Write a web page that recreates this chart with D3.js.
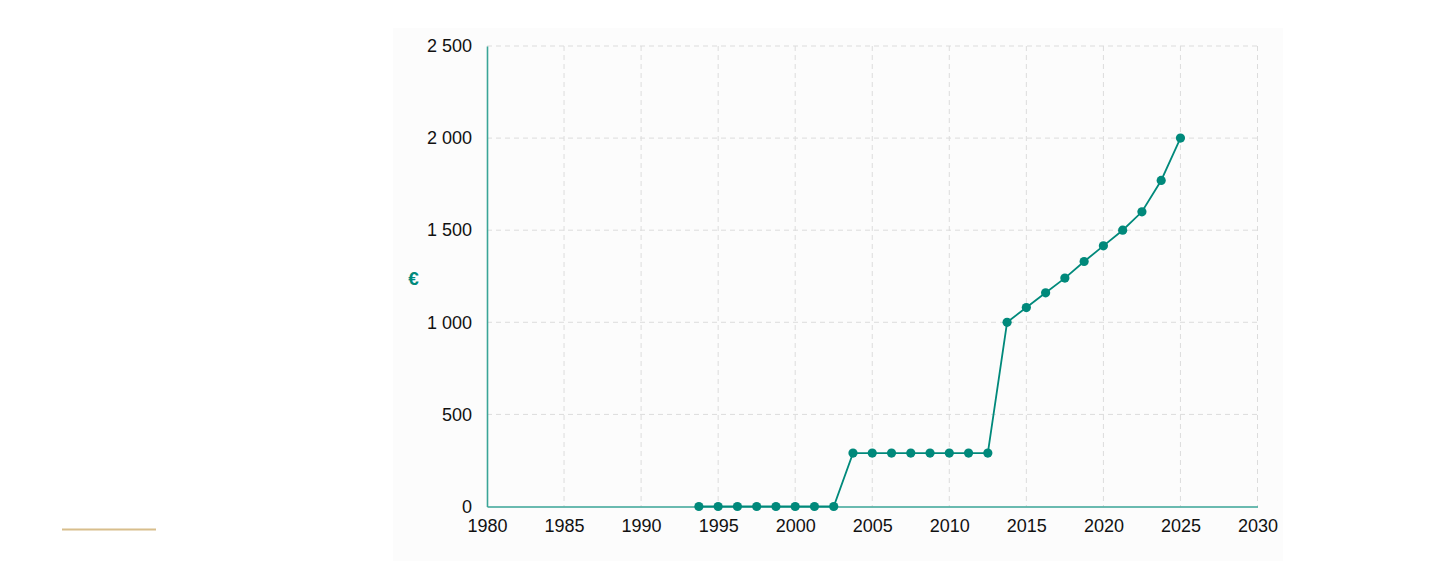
<!DOCTYPE html>
<html><head><meta charset="utf-8">
<script src="https://cdn.jsdelivr.net/npm/d3@7"></script>
<style>
html,body{margin:0;padding:0;background:#fff;}
svg{display:block;font-family:"Liberation Sans",Arial,sans-serif;}
</style></head>
<body><svg id="c" width="1433" height="567"></svg>
<script>
const years = [1993.75,1995,1996.25,1997.5,1998.75,2000,2001.25,2002.5,2003.75,2005,2006.25,2007.5,2008.75,2010,2011.25,2012.5,2013.75,2015,2016.25,2017.5,2018.75,2020,2021.25,2022.5,2023.75,2025];
const values = [0,0,0,0,0,0,0,0,290,290,290,290,290,290,290,290,1000,1080,1160,1240,1330,1415,1500,1600,1770,2000];
const xTicks = [1980,1985,1990,1995,2000,2005,2010,2015,2020,2025,2030];
const yTicks = [0,500,1000,1500,2000,2500];
const yUnit = "€";

const svg = d3.select("#c");
const x = d3.scaleLinear().domain([1980,2030]).range([487,1257.5]);
const y = d3.scaleLinear().domain([0,2500]).range([506.5,46]);
const teal = "#00897b";
const font = "'Liberation Sans',Arial,sans-serif";

svg.append("rect").attr("x",393).attr("y",28).attr("width",890).attr("height",533).attr("fill","#fcfcfc");

// gold line
svg.append("line").attr("x1",62).attr("x2",156).attr("y1",529.5).attr("y2",529.5)
  .attr("stroke","#d8be8c").attr("stroke-width",2);

// grid
const g = svg.append("g");
g.selectAll(".vg").data(xTicks.slice(1)).join("line")
  .attr("x1",d=>x(d)).attr("x2",d=>x(d)).attr("y1",y(2500)).attr("y2",y(0))
  .attr("stroke","#dcdcdc").attr("stroke-dasharray","5,4").attr("stroke-width",1);
g.selectAll(".hg").data(yTicks.slice(1)).join("line")
  .attr("x1",x(1980)).attr("x2",x(2030)).attr("y1",d=>y(d)).attr("y2",d=>y(d))
  .attr("stroke","#dcdcdc").attr("stroke-dasharray","5,4").attr("stroke-width",1);

const fmt = d => d3.format(",")(d).replace(/,/g," ");

// axes
const xa = svg.append("g").attr("transform",`translate(0,${y(0)})`)
  .call(d3.axisBottom(x).tickValues(xTicks).tickFormat(d3.format("d")).tickSize(0).tickPadding(13));
xa.select(".domain").attr("stroke","#3aa597").attr("stroke-width",1.6);
xa.selectAll("text").attr("font-size",18).attr("fill","#111").attr("font-family",font);

const ya = svg.append("g").attr("transform",`translate(${x(1980)},0)`)
  .call(d3.axisLeft(y).tickValues(yTicks).tickFormat(fmt).tickSize(0).tickPadding(15));
ya.select(".domain").attr("stroke","#3aa597").attr("stroke-width",1.6);
ya.selectAll("text").attr("font-size",18).attr("fill","#111").attr("font-family",font);

svg.append("text").attr("x",413.5).attr("y",284.5).attr("text-anchor","middle")
  .attr("font-size",19).attr("font-weight",600).attr("fill",teal).attr("font-family",font).text(yUnit);

// line + points
const pts = years.map((d,i)=>({x:d,v:values[i]}));
svg.append("path").datum(pts)
  .attr("d",d3.line().x(d=>x(d.x)).y(d=>y(d.v)))
  .attr("fill","none").attr("stroke",teal).attr("stroke-width",1.8);
svg.selectAll(".pt").data(pts).join("circle")
  .attr("cx",d=>x(d.x)).attr("cy",d=>y(d.v)).attr("r",4.6).attr("fill",teal);
</script></body></html>
